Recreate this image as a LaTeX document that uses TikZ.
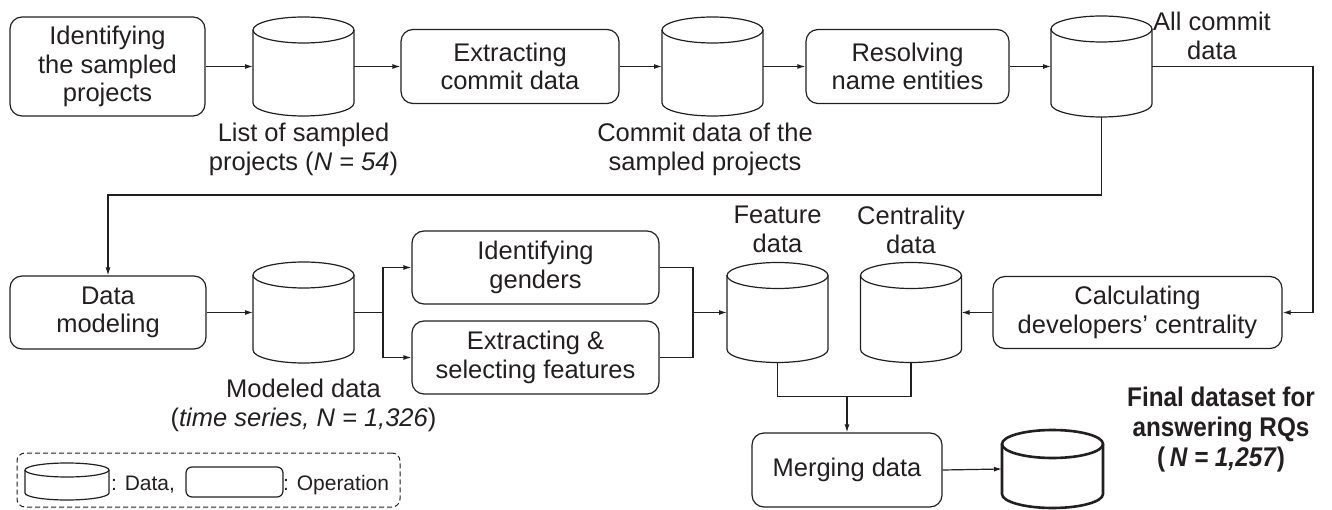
\documentclass[tikz,border=0pt]{standalone}
\usepackage{fontspec}
\setmainfont{Liberation Sans}
\newfontfamily\narrowfont[FakeStretch=0.9]{Liberation Sans}
\usetikzlibrary{arrows.meta,calc}
\definecolor{ink}{RGB}{35,31,32}
\newcommand\mainfs{\fontsize{25.5pt}{28.5pt}\selectfont}
\newcommand\legfs{\fontsize{21pt}{24pt}\selectfont}
\newcommand\finalfs{\narrowfont\bfseries\fontsize{27pt}{30pt}\selectfont}
% #1 options, #2 node name, #3 x radius, #4 y radius
\newcommand\cylshape[4][]{%
  \draw[ink, line width=1.2pt, #1] ([yshift=-#4]#2.north west) -- ([yshift=#4]#2.south west)
    arc[start angle=180, end angle=360, x radius=#3, y radius=#4]
    -- ([yshift=-#4]#2.north east);
  \draw[ink, line width=1.2pt, #1] ([yshift=-#4]#2.north) ellipse[x radius=#3, y radius=#4];
}
\begin{document}
\begin{tikzpicture}[x=1pt, y=1pt,
  op/.style={draw=ink, line width=1.2pt, rounded corners=12pt, align=center,
    inner sep=0pt, text=ink, font=\mainfs},
  dbbox/.style={inner sep=0pt, outer sep=0pt},
  lbl/.style={align=center, inner sep=0pt, text=ink, font=\mainfs},
  ln/.style={draw=ink, line width=1.2pt},
  arr/.style={ln, -{Latex[length=8pt, width=5pt]}}
]
\useasboundingbox (0,0) rectangle (1332,509);

% ---- top row
\node[op, minimum width=195pt, minimum height=99pt] (b1) at (107.5,442.5) {Identifying\\the sampled\\projects};
\node[dbbox, minimum width=101pt, minimum height=99pt] (c1) at (303.5,442.5) {};
\node[lbl, anchor=north] (l1) at (303.5,386) {List of sampled\\projects (\textit{N = 54})};
\node[op, minimum width=218pt, minimum height=74pt] (b2) at (510,442.5) {Extracting\\commit data};
\node[dbbox, minimum width=101pt, minimum height=99pt] (c2) at (712.5,442.5) {};
\node[lbl, anchor=north] (l2) at (705,386) {Commit data of the\\sampled projects};
\node[op, minimum width=203pt, minimum height=74pt] (b3) at (907.5,442.5) {Resolving\\name entities};
\node[dbbox, minimum width=101pt, minimum height=101pt] (c3) at (1101.5,442.5) {};
\node[lbl, anchor=north] (l3) at (1212,497) {All commit\\data};

% ---- middle row
\node[op, minimum width=196pt, minimum height=73pt] (dm) at (108,196.5) {Data\\modeling};
\node[dbbox, minimum width=101pt, minimum height=101pt] (c4) at (303.5,196.5) {};
\node[lbl, anchor=north] (l4) at (303.5,130) {Modeled data\\(\textit{time series, N = 1,326})};
\node[op, minimum width=247pt, minimum height=73pt] (gen) at (535.5,241.5) {Identifying\\genders};
\node[op, minimum width=247pt, minimum height=73pt] (ext) at (535.5,151.5) {Extracting \&\\selecting features};
\node[dbbox, minimum width=101pt, minimum height=100pt] (feat) at (777.5,196.5) {};
\node[lbl, anchor=north] (lf) at (777.5,303) {Feature\\data};
\node[dbbox, minimum width=101pt, minimum height=100pt] (cent) at (911,196.5) {};
\node[lbl, anchor=north] (lc) at (911,303) {Centrality\\data};
\node[op, minimum width=289pt, minimum height=72pt] (calc) at (1137.5,196.5) {Calculating\\developers’ centrality};

% ---- bottom row
\node[op, minimum width=190pt, minimum height=74pt] (merge) at (847,39) {Merging data};
\node[dbbox, minimum width=101pt, minimum height=78pt] (fin) at (1052.5,40) {};
\node[lbl, anchor=north, font=\finalfs] (lfin) at (1221,122) {Final dataset for\\answering RQs\\(\,\textit{N = 1,257})};

% ---- legend
\node[draw=ink, dash pattern=on 5pt off 3pt, line width=1pt, rounded corners=8pt,
  minimum width=383pt, minimum height=54pt, inner sep=0pt] (leg) at (208.5,29) {};
\node[dbbox, minimum width=84pt, minimum height=37pt] (legc) at (67,27.5) {};
\node[lbl, anchor=base west, font=\legfs] (legd) at (111,19) {: Data,};
\node[op, minimum width=97pt, minimum height=30pt, rounded corners=6pt] (lego) at (234.5,27) {};
\node[lbl, anchor=base west, font=\legfs] (legt) at (283,19) {: Operation};

% ---- cylinders
\cylshape{c1}{50.5pt}{13pt}
\cylshape{c2}{50.5pt}{13pt}
\cylshape{c3}{50.5pt}{13pt}
\cylshape{c4}{50.5pt}{13pt}
\cylshape{feat}{50.5pt}{13pt}
\cylshape{cent}{50.5pt}{13pt}
\cylshape[line width=2.6pt]{fin}{50.5pt}{14pt}
\cylshape{legc}{42pt}{7pt}

% ---- connectors
\coordinate (rx) at (1313,0);
\draw[arr] (b1.east) -- (c1.west);
\draw[arr] (c1.east) -- (b2.west);
\draw[arr] (b2.east) -- (c2.west);
\draw[arr] (c2.east) -- (b3.west);
\draw[arr] (b3.east) -- (c3.west);
\draw[arr] (c3.east) -- (c3.east -| rx) |- (calc.east);
\draw[arr] (c3.south) -- ++(0,-78) -| (dm.north);
\draw[arr] (dm.east) -- (c4.west);
\draw[ln] (c4.east) -- ++(29,0) coordinate (sp);
\draw[arr] (sp) |- (gen.west);
\draw[arr] (sp) |- (ext.west);
\coordinate (jn) at ($(feat.west)+(-34,0)$);
\draw[ln] (gen.east) -| (jn);
\draw[ln] (ext.east) -| (jn);
\draw[arr] (jn) -- (feat.west);
\draw[arr] (calc.west) -- (cent.east);
\coordinate (mj) at ($(feat.south)+(0,-34)$);
\draw[ln] (feat.south) -- (mj) -| (cent.south);
\draw[arr] (mj -| merge.north) -- (merge.north);
\draw[arr] (merge.east) -- (fin.west);
\end{tikzpicture}
\end{document}
